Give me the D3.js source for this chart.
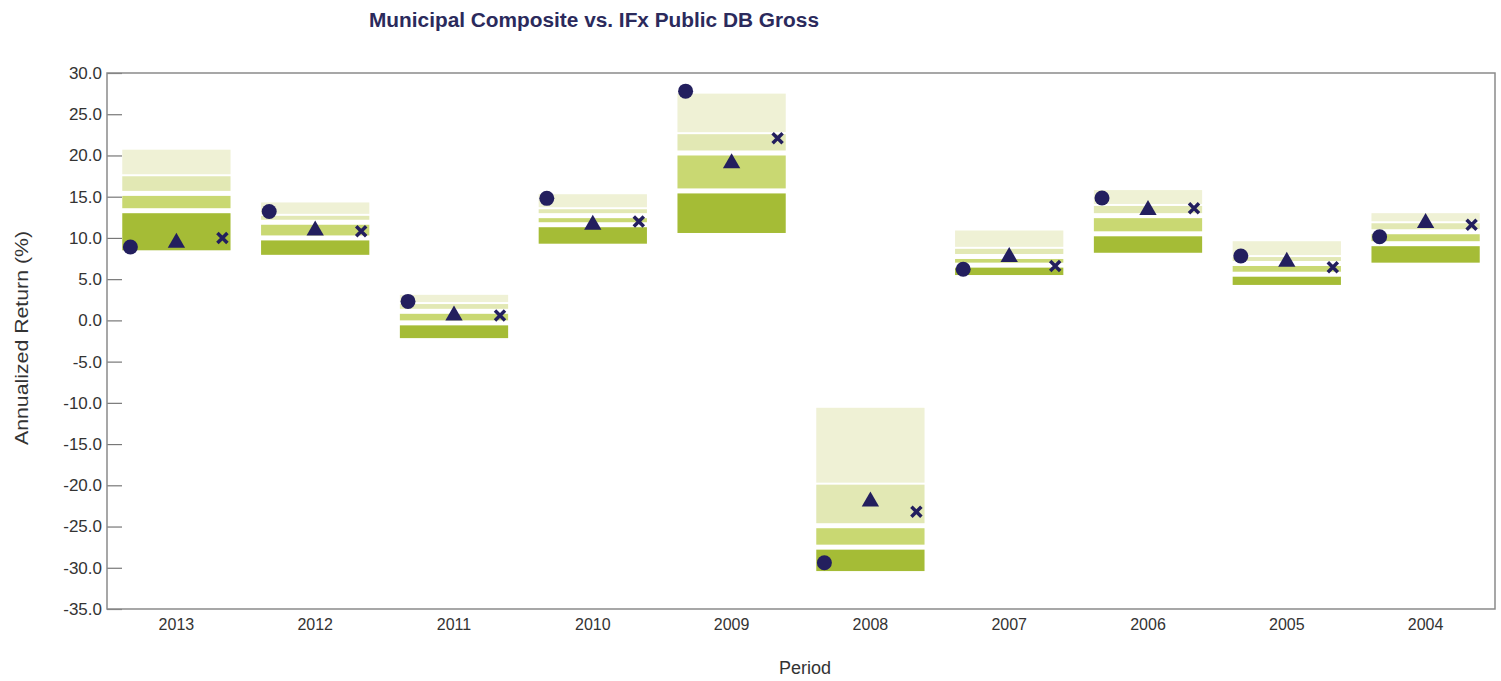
<!DOCTYPE html>
<html>
<head>
<meta charset="utf-8">
<script src="https://cdn.jsdelivr.net/npm/d3@7"></script>
<style>
  body { margin: 0; background: #fff; }
  svg { display: block; font-family: "Liberation Sans", Arial, sans-serif; }
</style>
</head>
<body>
<div id="chart"></div>
<script>
// periods, newest first
var years = ['2013', '2012', '2011', '2010', '2009', '2008', '2007', '2006', '2005', '2004'];

// universe percentiles (IFx Public DB Gross)
var p95 = [20.7, 14.3, 3.1, 15.3, 27.5, -10.6, 10.9, 15.8, 9.6, 13.0];
var p75 = [17.6, 12.8, 2.1, 13.6, 22.7, -19.8, 8.8, 14.0, 7.8, 11.9];
var p50 = [15.4, 11.9, 1.1, 12.7, 20.3, -24.9, 7.75, 12.7, 6.9, 10.75];
var p25 = [13.3, 10.0, -0.3, 11.6, 15.7, -27.5, 6.7, 10.5, 5.6, 9.3];
var p5  = [8.5, 7.95, -2.15, 9.3, 10.6, -30.4, 5.5, 8.2, 4.3, 7.0];

// plotted returns
var composite = [8.9, 13.2, 2.3, 14.8, 27.8, -29.4, 6.2, 14.85, 7.8, 10.15];   // circle
var policy    = [9.4, 10.9, 0.6, 11.6, 19.05, -21.95, 7.7, 13.4, 7.1, 11.8];   // triangle
var benchmark = [10.0, 10.8, 0.6, 12.0, 22.1, -23.2, 6.6, 13.6, 6.45, 11.6];   // cross

var yTicks = [30, 25, 20, 15, 10, 5, 0, -5, -10, -15, -20, -25, -30, -35];

var W = 1501, H = 681;
var plotL = 107, plotR = 1495, plotT = 73, plotB = 609;
var bandColors = ['#eff1d5', '#e2e8b4', '#c9d872', '#a5bc36'];
var markColor = '#231f5e';

var svg = d3.select('#chart').append('svg')
  .attr('width', W)
  .attr('height', H);

var x = d3.scaleBand()
  .domain(years)
  .range([plotL, plotR])
  .paddingInner(0.22)
  .paddingOuter(0.11);

var y = d3.scaleLinear()
  .domain([-35, 30])
  .range([plotB, plotT]);

// title
svg.append('text')
  .attr('x', 369)
  .attr('y', 27)
  .attr('font-size', 20)
  .attr('font-weight', 'bold')
  .attr('fill', '#2b2a5c')
  .attr('textLength', 450)
  .attr('lengthAdjust', 'spacingAndGlyphs')
  .text('Municipal Composite vs. IFx Public DB Gross');

// y axis, ticks pointing inward; plain hyphen for negatives
var fmt = d3.format('.1f');
var yAxis = d3.axisLeft(y)
  .tickValues(yTicks)
  .tickFormat(function(d) { return fmt(d).replace('\u2212', '-'); })
  .tickSize(-15)
  .tickPadding(4);

var gy = svg.append('g')
  .attr('transform', 'translate(' + plotL + ',0)')
  .call(yAxis);
gy.select('.domain').remove();
gy.selectAll('.tick line').attr('stroke', '#777').attr('stroke-width', 1.2);
gy.selectAll('.tick text')
  .attr('x', -5)
  .attr('font-size', 17)
  .attr('font-family', '"Liberation Sans", Arial, sans-serif')
  .attr('fill', '#333');

// x axis labels
var xAxis = d3.axisBottom(x).tickSize(0).tickPadding(10);
var gx = svg.append('g')
  .attr('transform', 'translate(0,' + plotB + ')')
  .call(xAxis);
gx.select('.domain').remove();
gx.selectAll('.tick text')
  .attr('font-size', 16)
  .attr('font-family', '"Liberation Sans", Arial, sans-serif')
  .attr('fill', '#333');

// frame
svg.append('rect')
  .attr('x', plotL)
  .attr('y', plotT)
  .attr('width', plotR - plotL)
  .attr('height', plotB - plotT)
  .attr('fill', 'none')
  .attr('stroke', '#8a8a8a')
  .attr('stroke-width', 1.5);

// axis titles
svg.append('text')
  .attr('transform', 'translate(28,338) rotate(-90)')
  .attr('text-anchor', 'middle')
  .attr('font-size', 18)
  .attr('fill', '#333')
  .attr('textLength', 214)
  .attr('lengthAdjust', 'spacingAndGlyphs')
  .text('Annualized Return (%)');

svg.append('text')
  .attr('x', 805)
  .attr('y', 674)
  .attr('text-anchor', 'middle')
  .attr('font-size', 18)
  .attr('fill', '#333')
  .text('Period');

// floating percentile bars: four bands separated by white gaps
var rows = years.map(function(yr, i) {
  return { year: yr, cuts: [p95[i], p75[i], p50[i], p25[i], p5[i]] };
});
var gapTop = [0, 1, 2.5, 2.5];
var gapBot = [1, 2.5, 2.5, 0];

var bars = svg.append('g').selectAll('g.bar')
  .data(rows)
  .enter().append('g')
  .attr('class', 'bar');

bars.selectAll('rect')
  .data(function(d) {
    return [0, 1, 2, 3].map(function(k) {
      return { year: d.year, hi: d.cuts[k], lo: d.cuts[k + 1], k: k };
    });
  })
  .enter().append('rect')
  .attr('x', function(d) { return x(d.year); })
  .attr('width', x.bandwidth())
  .attr('y', function(d) { return y(d.hi) + gapTop[d.k]; })
  .attr('height', function(d) { return Math.max(0, y(d.lo) - y(d.hi) - gapTop[d.k] - gapBot[d.k]); })
  .attr('fill', function(d) { return bandColors[d.k]; });

// markers
var off = 46;
var marks = svg.append('g');

marks.selectAll('circle')
  .data(years)
  .enter().append('circle')
  .attr('cx', function(d) { return x(d) + x.bandwidth() / 2 - off; })
  .attr('cy', function(d, i) { return y(composite[i]); })
  .attr('r', 7.5)
  .attr('fill', markColor);

marks.selectAll('path.tri')
  .data(years)
  .enter().append('path')
  .attr('class', 'tri')
  .attr('d', d3.symbol().type(d3.symbolTriangle).size(130))
  .attr('transform', function(d, i) {
    return 'translate(' + (x(d) + x.bandwidth() / 2) + ',' + y(policy[i]) + ')';
  })
  .attr('fill', markColor);

marks.selectAll('path.cross')
  .data(years)
  .enter().append('path')
  .attr('class', 'cross')
  .attr('d', 'M-5,-5L5,5M-5,5L5,-5')
  .attr('transform', function(d, i) {
    return 'translate(' + (x(d) + x.bandwidth() / 2 + off) + ',' + y(benchmark[i]) + ')';
  })
  .attr('stroke', markColor)
  .attr('stroke-width', 3.5)
  .attr('fill', 'none');
</script>
</body>
</html>
